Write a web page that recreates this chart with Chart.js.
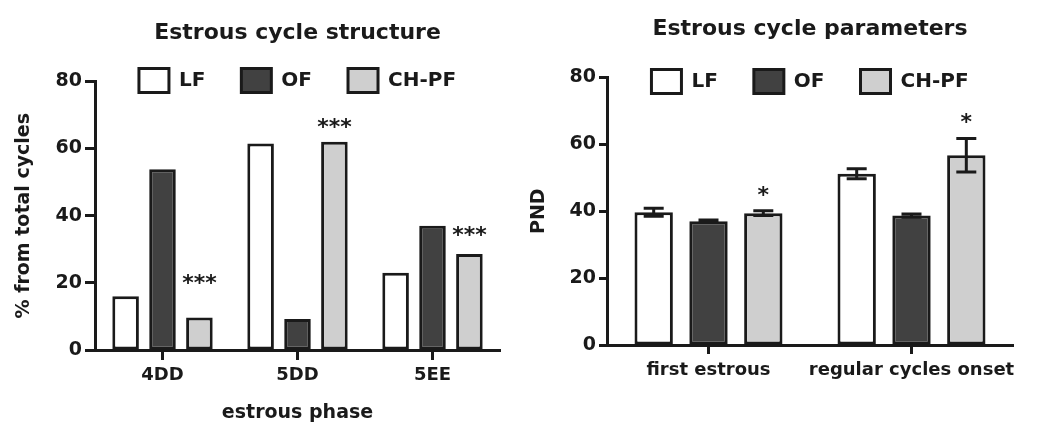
<!DOCTYPE html>
<html>
<head>
<meta charset="utf-8">
<script src="https://cdn.jsdelivr.net/npm/chart.js@4.4.0/dist/chart.umd.min.js"></script>
<style>
    body { margin: 0; background: #fff; }
    .wrap { display: flex; width: 1050px; height: 434px; }
    .box { width: 525px; height: 434px; }
</style>
</head>
<body>
<div class="wrap">
    <div class="box"><canvas id="structure_chart" width="525" height="434"></canvas></div>
    <div class="box"><canvas id="params_chart" width="525" height="434"></canvas></div>
</div>
<script>
// groups
var groupNames = ['LF', 'OF', 'CH-PF'];
var groupColors = ['#ffffff', '#414141', '#cfcfcf'];
var yTicks = [0, 20, 40, 60, 80];

// estrous cycle structure (% from total cycles)
var phaseLabels = ['4DD', '5DD', '5EE'];
var lfCycles = [16, 61.5, 23];
var ofCycles = [53.8, 9.2, 37];
var chpfCycles = [9.7, 62, 28.6];
var cycleStars = ['***', '***', '***'];
var cycleStarAt = [19.5, 66, 34];

// estrous cycle parameters (PND, mean +/- sem)
var paramLabels = ['first estrous', 'regular cycles onset'];
var lfPnd = [39.7, 51.2];
var lfPndErr = [1.2, 1.5];
var ofPnd = [37.0, 38.7];
var ofPndErr = [0.4, 0.5];
var chpfPnd = [39.4, 56.7];
var chpfPndErr = [0.7, 5];
var pndStars = ['*', '*'];
var pndStarAt = [44.4, 66.4];

var ink = '#1a1a1a';
var fam = '"DejaVu Sans", sans-serif';

function font(size) {
    return {family: fam, size: size, weight: 'bold'};
}

// error bars drawn from the y scale
var errorBars = {
    id: 'errorBars',
    afterDatasetsDraw: function (chart) {
        var ctx = chart.ctx;
        var y = chart.scales.y;
        chart.data.datasets.forEach(function (ds, di) {
            if (!ds.errors) return;
            chart.getDatasetMeta(di).data.forEach(function (bar, i) {
                var top = y.getPixelForValue(ds.data[i] + ds.errors[i]);
                var bot = y.getPixelForValue(ds.data[i] - ds.errors[i]);
                ctx.save();
                ctx.strokeStyle = ink;
                ctx.lineWidth = 3;
                ctx.beginPath();
                ctx.moveTo(bar.x, top); ctx.lineTo(bar.x, bot);
                ctx.moveTo(bar.x - 10, top); ctx.lineTo(bar.x + 10, top);
                ctx.moveTo(bar.x - 10, bot); ctx.lineTo(bar.x + 10, bot);
                ctx.stroke();
                ctx.restore();
            });
        });
    }
};

// significance marks above the CH-PF bars
var stars = {
    id: 'stars',
    afterDatasetsDraw: function (chart, args, opts) {
        var ctx = chart.ctx;
        var y = chart.scales.y;
        var meta = chart.getDatasetMeta(opts.dataset);
        ctx.save();
        ctx.fillStyle = ink;
        ctx.font = 'bold 22px ' + fam;
        ctx.textAlign = 'center';
        ctx.textBaseline = 'middle';
        meta.data.forEach(function (bar, i) {
            ctx.fillText(opts.marks[i], bar.x, y.getPixelForValue(opts.at[i]));
        });
        ctx.restore();
    }
};

// legend overlaps the top of the plot, so let it draw past its box
var legendOverlap = {
    id: 'legendOverlap',
    afterLayout: function (chart) {
        var lg = chart.legend;
        lg.bottom = lg.top + 80;
        lg.height = 80;
    }
};

function getConfig(labels, series, errs, opt) {
    var datasets = series.map(function (vals, i) {
        return {
            label: groupNames[i],
            data: vals,
            errors: errs ? errs[i] : null,
            backgroundColor: groupColors[i],
            borderColor: ink,
            borderWidth: 3,
            borderSkipped: false,
            categoryPercentage: opt.cp,
            barPercentage: opt.bp
        };
    });
    return {
        type: 'bar',
        data: {labels: labels, datasets: datasets},
        plugins: [errorBars, stars, legendOverlap],
        options: {
            responsive: false,
            animation: false,
            layout: {padding: {left: 0, right: opt.right, top: 0, bottom: 0}},
            plugins: {
                title: {
                    display: true,
                    text: opt.title,
                    color: ink,
                    font: font(22),
                    fullSize: false,
                    padding: {top: opt.titleTop, bottom: opt.titleBottom}
                },
                legend: {
                    display: true,
                    fullSize: false,
                    maxHeight: opt.legendHeight,
                    labels: {
                        color: ink,
                        font: font(20),
                        boxWidth: 30,
                        boxHeight: 24,
                        padding: 36
                    }
                },
                tooltip: {enabled: false},
                stars: {dataset: 2, marks: opt.marks, at: opt.at}
            },
            scales: {
                x: {
                    ticks: {color: ink, font: font(18), padding: opt.xPad, maxRotation: 0, autoSkip: false},
                    grid: {offset: false, drawOnChartArea: false, tickLength: opt.xTick, tickWidth: 3, tickColor: ink},
                    border: {color: ink, width: 3},
                    title: {display: !!opt.xTitle, text: opt.xTitle, color: ink, font: font(19), padding: {top: 0, bottom: 10}},
                    afterFit: function (s) { s.height = opt.xHeight; }
                },
                y: {
                    min: 0,
                    max: 80,
                    afterBuildTicks: function (s) {
                        s.ticks = yTicks.map(function (v) { return {value: v}; });
                    },
                    ticks: {color: ink, font: font(19), padding: 3},
                    grid: {drawOnChartArea: false, tickLength: opt.yTick, tickWidth: 3, tickColor: ink},
                    border: {color: ink, width: 3},
                    title: {display: true, text: opt.yTitle, color: ink, font: font(19), padding: {top: opt.yTitlePad, bottom: 0}},
                    afterFit: function (s) { s.width = opt.yWidth; }
                }
            }
        }
    };
}

new Chart(document.getElementById('structure_chart').getContext('2d'), getConfig(
    phaseLabels, [lfCycles, ofCycles, chpfCycles], null, {
        title: 'Estrous cycle structure', titleTop: 20, titleBottom: -14, legendHeight: 49,
        right: 25, cp: 0.82, bp: 0.72, xTitle: 'estrous phase', xHeight: 84, xTick: 10, xPad: 5,
        yTitle: '% from total cycles', yTitlePad: 13, yWidth: 95, yTick: 10,
        marks: cycleStars, at: cycleStarAt
    }));

new Chart(document.getElementById('params_chart').getContext('2d'), getConfig(
    paramLabels, [lfPnd, ofPnd, chpfPnd], [lfPndErr, ofPndErr, chpfPndErr], {
        title: 'Estrous cycle parameters', titleTop: 16, titleBottom: -9, legendHeight: 44,
        right: 37, cp: 0.81, bp: 0.7, xTitle: '', xHeight: 89, xTick: 9, xPad: 6,
        yTitle: 'PND', yTitlePad: 3, yWidth: 82, yTick: 8,
        marks: pndStars, at: pndStarAt
    }));
</script>
</body>
</html>
